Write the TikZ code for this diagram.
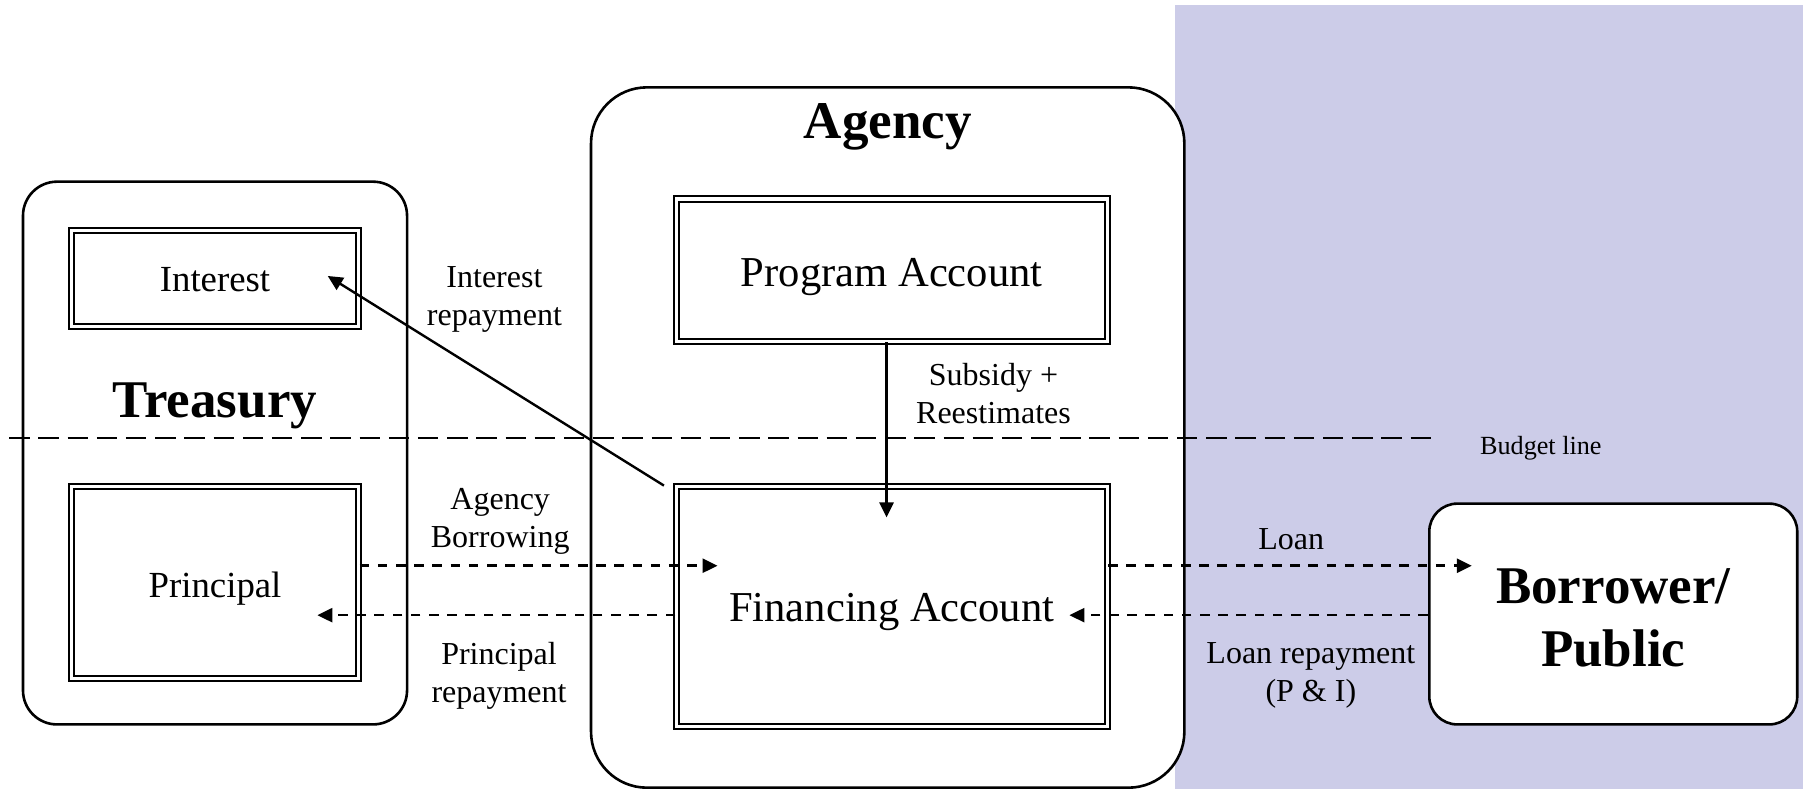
\documentclass[tikz,border=0pt]{standalone}
\usepackage{fontspec}
\setmainfont{Liberation Serif}
\usetikzlibrary{arrows.meta}
\definecolor{bgpurple}{RGB}{204,204,232}
\begin{document}
\begin{tikzpicture}[x=0.575pt,y=-0.575pt,
  container/.style={draw, line width=1.3pt, fill=white, inner sep=0pt},
  acct/.style={draw, line width=1pt, double, double distance=1.65pt, inner sep=0pt, text depth=0pt},
  lbl/.style={align=center, font=\fontsize{16}{19}\selectfont, inner sep=0pt},
  title/.style={align=center, font=\fontsize{26.5}{31.6}\selectfont\bfseries, inner sep=0pt},
  flow/.style={line width=1.2pt, -{Triangle[length=7.5pt,width=7pt]}},
  dflow/.style={flow, line width=1.25pt, dash pattern=on 4.8pt off 4.3pt},
  budget/.style={line width=1.3pt, dash pattern=on 10.2pt off 4.4pt}
]
\useasboundingbox (0,0) rectangle (1568,686);
% background
\fill[bgpurple] (1022,4.3) rectangle (1568,686);

% containers
\node[container, rounded corners=17pt, minimum width=192.05pt, minimum height=271.4pt] (treasury) at (187,394) {};
\node[container, rounded corners=28pt, minimum width=296.7pt, minimum height=350.2pt] (agency) at (772,380.5) {};
\node[container, rounded corners=14pt, minimum width=184pt, minimum height=110.4pt] (borrower) at (1403,534) {};

\node[title] (treasurytitle) at (187,353) {Treasury};
\node[title] (agencytitle) at (772,110) {Agency};
\node[title] (borrowertitle) at (1403,537.5) {Borrower/\\Public};

% budget line
\coordinate (bl1) at (8,381);
\coordinate (bl2) at (1250,381);
\draw[budget] (bl1) -- (bl2);
\node[font=\fontsize{13.1}{15}\selectfont, inner sep=0pt] (budgetlbl) at (1340,390) {Budget line};

% account boxes
\node[acct, minimum width=143.6pt, minimum height=48.1pt, font=\fontsize{18.4}{22}\selectfont, text height=13.3pt] (interest) at (187,242) {Interest};
\node[acct, minimum width=143.6pt, minimum height=95.9pt, font=\fontsize{18.4}{22}\selectfont, text height=15pt] (principal) at (187,506.5) {Principal};
\node[acct, minimum width=215.5pt, minimum height=71.1pt, font=\fontsize{21.3}{25}\selectfont, text height=16.4pt] (program) at (775.5,235) {Program Account};
\node[acct, minimum width=215.5pt, minimum height=120pt, font=\fontsize{21.3}{25}\selectfont, text height=14.7pt] (financing) at (775.5,527.5) {Financing Account};

% flows
\coordinate (irstart) at (577.4,422.3);
\coordinate (irtip) at (285,240);
\draw[flow] (irstart) -- (irtip);
\node[lbl] (irlbl) at (430,260.5) {Interest\\repayment};

\coordinate (subtip) at (771,450);
\draw[flow] (subtip |- program.south) -- (subtip);
\node[lbl] (sublbl) at (864,342) {Subsidy +\\Reestimates};

\coordinate (abtip) at (624,492);
\draw[dflow] (principal.east |- abtip) -- (abtip);
\node[lbl] (ablbl) at (435,453.5) {Agency\\Borrowing};

\coordinate (prtip) at (276,535);
\draw[dflow] (financing.west |- prtip) -- (prtip);
\node[lbl] (prlbl) at (434,587.5) {Principal\\repayment};

\coordinate (loantip) at (1280,492);
\draw[dflow] (financing.east |- loantip) -- (loantip);
\node[lbl] (loanlbl) at (1123,469) {Loan};

\coordinate (lrtip) at (930,535);
\draw[dflow] (borrower.west |- lrtip) -- (lrtip);
\node[lbl] (lrlbl) at (1140,587.5) {Loan repayment\\(P \& I)};
\end{tikzpicture}
\end{document}
